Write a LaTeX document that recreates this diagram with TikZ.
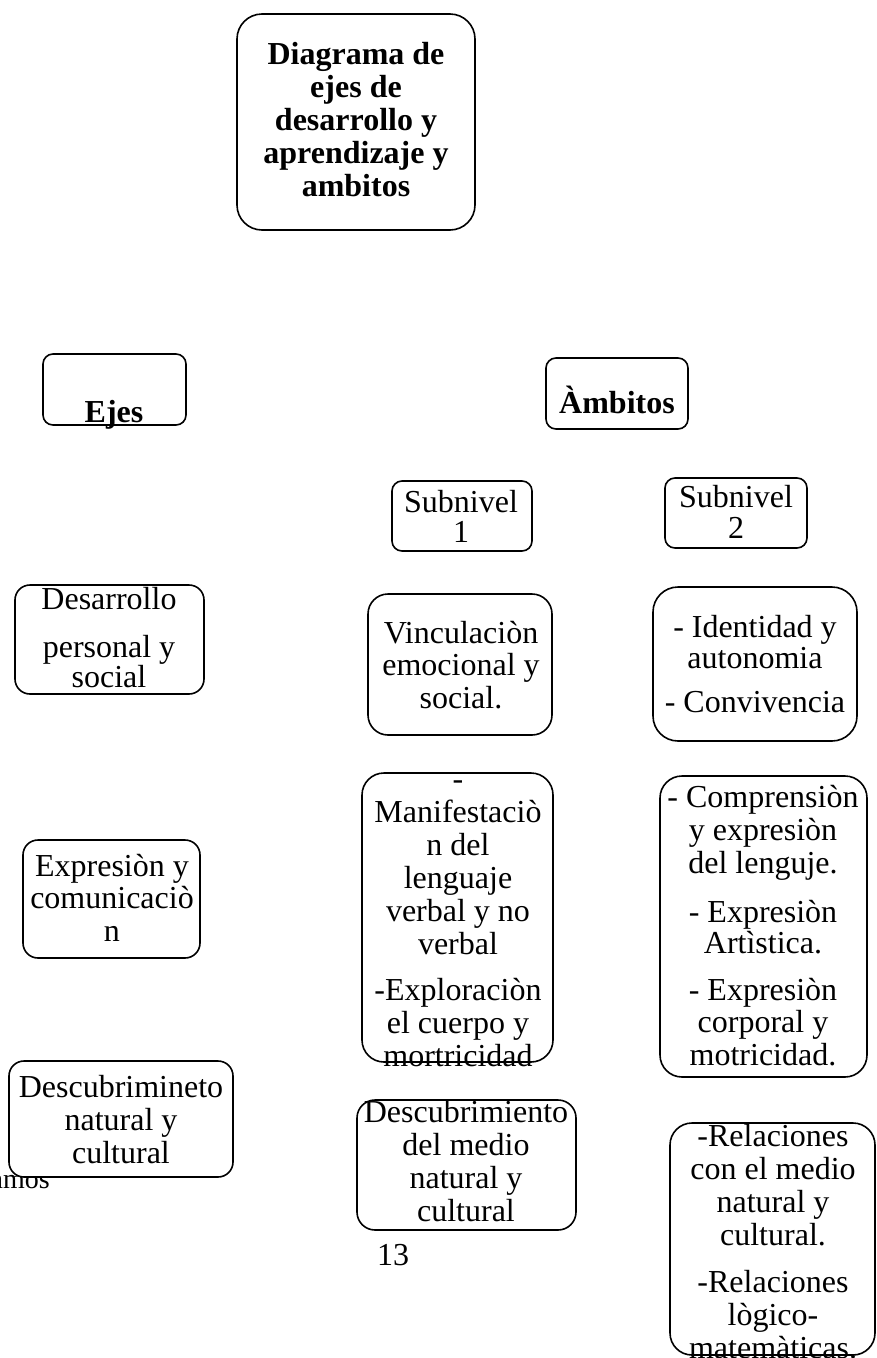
\documentclass[tikz,border=0pt]{standalone}
\usepackage{fontspec}
\setmainfont{Liberation Serif}
\tikzset{
  bx/.style={draw, line width=1.6pt, fill=white, inner sep=0pt},
  tx/.style={anchor=base, inner sep=0pt, font=\fontsize{32}{33}\selectfont},
}
\newcommand\ml[1]{\parbox[t]{320pt}{\centering #1}}
\begin{document}
\begin{tikzpicture}[x=1pt,y=-1pt]
\useasboundingbox (0,0) rectangle (877,1358);
% stray text partly covered
\node[tx, anchor=base east, font=\fontsize{28}{30}\selectfont] (amos) at (50,1188) {amos};
% boxes
\node[bx, rounded corners=25pt, minimum width=238pt, minimum height=216pt] (title) at (356,122) {};
\node[bx, rounded corners=10pt, minimum width=143pt, minimum height=71pt] (ejes) at (114.5,389.5) {};
\node[bx, rounded corners=10pt, minimum width=142pt, minimum height=71pt] (amb) at (617,393.5) {};
\node[bx, rounded corners=10pt, minimum width=140pt, minimum height=70pt] (sub1) at (462,516) {};
\node[bx, rounded corners=10pt, minimum width=142pt, minimum height=70pt] (sub2) at (736,513) {};
\node[bx, rounded corners=15pt, minimum width=189pt, minimum height=109pt] (desa) at (109.5,639.5) {};
\node[bx, rounded corners=20pt, minimum width=184pt, minimum height=141pt] (vinc) at (460,664.5) {};
\node[bx, rounded corners=25pt, minimum width=204pt, minimum height=154pt] (iden) at (755,664) {};
\node[bx, rounded corners=15pt, minimum width=177pt, minimum height=118pt] (expr) at (111.5,899) {};
\node[bx, rounded corners=22pt, minimum width=191pt, minimum height=289pt] (mani) at (457.5,917.5) {};
\node[bx, rounded corners=22pt, minimum width=207pt, minimum height=301pt] (comp) at (763.5,926.5) {};
\node[bx, rounded corners=15pt, minimum width=224pt, minimum height=116pt] (desl) at (121,1119) {};
\node[bx, rounded corners=18pt, minimum width=219pt, minimum height=130pt] (desm) at (466.5,1165) {};
\node[bx, rounded corners=22pt, minimum width=205pt, minimum height=232pt] (rela) at (772.5,1239) {};
% texts
\node[tx, font=\fontsize{32}{33}\selectfont\bfseries] (ttitle) at (356,64) {\ml{Diagrama de\\ejes de\\desarrollo y\\aprendizaje y\\ambitos}};
\node[tx, font=\fontsize{32}{33}\selectfont\bfseries] (tejes) at (114,422) {Ejes};
\node[tx, font=\fontsize{32}{33}\selectfont\bfseries] (tamb) at (617,413) {Àmbitos};
\node[tx] (tsub1) at (461,512) {\ml{Subnivel\\[-3pt]1}};
\node[tx] (tsub2) at (736,507) {\ml{Subnivel\\[-2pt]2}};
\node[tx] (tdesa) at (109,609) {\ml{Desarrollo\\[15pt]personal y\\[-3pt]social}};
\node[tx] (tvinc) at (461,643) {\ml{Vinculaciòn\\[-1pt]emocional y\\social.}};
\node[tx] (tiden) at (755,637) {\ml{- Identidad y\\[-2pt]autonomia\\[11pt]- Convivencia}};
\node[tx] (texpr) at (112,876) {\ml{Expresiòn y\\[-1pt]comunicaciò\\n}};
\node[tx] (tmani) at (458,789) {\ml{-\\Manifestaciò\\n del\\lenguaje\\verbal y no\\verbal\\[13pt]-Exploraciòn\\el cuerpo y\\mortricidad}};
\node[tx] (tcomp) at (763,807) {\ml{- Comprensiòn\\y expresiòn\\del lenguje.\\[16pt]- Expresiòn\\[-2pt]Artìstica.\\[14pt]- Expresiòn\\[-1pt]corporal y\\motricidad.}};
\node[tx] (tdesl) at (121,1097) {\ml{Descubrimineto\\natural y\\cultural}};
\node[tx] (tdesm) at (466,1122) {\ml{Descubrimiento\\del medio\\natural y\\cultural}};
\node[tx] (trela) at (773,1146) {\ml{-Relaciones\\con el medio\\natural y\\cultural.\\[14pt]-Relaciones\\lògico-\\matemàticas.}};
\node[tx] (page) at (393,1265) {13};
\end{tikzpicture}
\end{document}
